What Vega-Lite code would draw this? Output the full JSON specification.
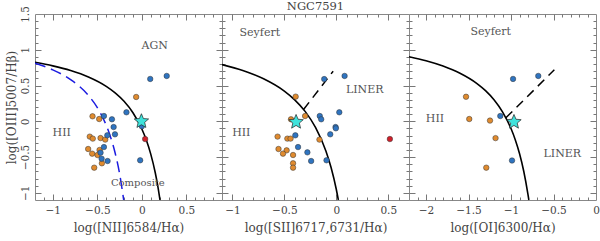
{
"$schema": "https://vega.github.io/schema/vega-lite/v6.json",
"padding": {"left": 4, "top": 0, "right": 3, "bottom": 2},
"background": "white",
"spacing": 0,
"bounds": "flush",
"config": {
  "view": {"stroke": "#888", "strokeWidth": 1},
  "font": "DejaVu Serif",
  "axis": {"grid": false, "domain": false, "labelFlush": false, "labelOverlap": false, "tickColor": "#777", "tickWidth": 1, "labelFont": "DejaVu Serif", "labelFontSize": 10.5, "labelColor": "#444", "titleFont": "DejaVu Serif", "titleFontSize": 12, "titleFontWeight": "normal", "titleColor": "#444"}
},
"datasets": {
  "p1": [
    {"x": -0.064, "y": 0.34, "c": "o"}, {"x": -0.554, "y": 0.07, "c": "o"}, {"x": -0.479, "y": 0.032, "c": "o"}, {"x": -0.585, "y": -0.214, "c": "o"}, {"x": -0.551, "y": -0.242, "c": "o"}, {"x": -0.464, "y": -0.234, "c": "o"}, {"x": -0.411, "y": -0.256, "c": "o"}, {"x": -0.603, "y": -0.387, "c": "o"}, {"x": -0.475, "y": -0.401, "c": "o"}, {"x": -0.558, "y": -0.452, "c": "o"}, {"x": -0.498, "y": -0.471, "c": "o"}, {"x": -0.449, "y": -0.587, "c": "o"}, {"x": -0.535, "y": -0.648, "c": "o"},
    {"x": 0.094, "y": 0.592, "c": "b"}, {"x": 0.279, "y": 0.634, "c": "b"}, {"x": -0.173, "y": 0.126, "c": "b"}, {"x": -0.426, "y": 0.074, "c": "b"}, {"x": -0.336, "y": 0.028, "c": "b"}, {"x": -0.317, "y": -0.08, "c": "b"}, {"x": -0.302, "y": -0.182, "c": "b"}, {"x": -0.388, "y": -0.196, "c": "b"}, {"x": -0.426, "y": -0.36, "c": "b"}, {"x": -0.464, "y": -0.438, "c": "b"}, {"x": -0.452, "y": -0.522, "c": "b"}, {"x": -0.385, "y": -0.555, "c": "b"}, {"x": -0.019, "y": -0.545, "c": "b"}, {"x": 0.0, "y": -0.07, "c": "b"},
    {"x": 0.037, "y": -0.248, "c": "r"}
  ],
  "p2": [
    {"x": -0.391, "y": 0.345, "c": "o"}, {"x": -0.30, "y": 0.074, "c": "o"}, {"x": -0.436, "y": 0.028, "c": "o"}, {"x": -0.565, "y": -0.214, "c": "o"}, {"x": -0.471, "y": -0.242, "c": "o"}, {"x": -0.44, "y": -0.242, "c": "o"}, {"x": -0.162, "y": -0.256, "c": "o"}, {"x": -0.556, "y": -0.387, "c": "o"}, {"x": -0.478, "y": -0.406, "c": "o"}, {"x": -0.513, "y": -0.452, "c": "o"}, {"x": -0.416, "y": -0.471, "c": "o"}, {"x": -0.416, "y": -0.587, "c": "o"}, {"x": -0.416, "y": -0.648, "c": "o"},
    {"x": -0.116, "y": 0.59, "c": "b"}, {"x": 0.08, "y": 0.634, "c": "b"}, {"x": -0.159, "y": 0.074, "c": "b"}, {"x": -0.145, "y": 0.028, "c": "b"}, {"x": 0.029, "y": 0.126, "c": "b"}, {"x": -0.007, "y": -0.08, "c": "b"}, {"x": -0.004, "y": -0.098, "c": "b"}, {"x": -0.058, "y": -0.182, "c": "b"}, {"x": -0.394, "y": -0.196, "c": "b"}, {"x": -0.368, "y": -0.36, "c": "b"}, {"x": -0.278, "y": -0.434, "c": "b"}, {"x": -0.242, "y": -0.555, "c": "b"}, {"x": -0.094, "y": -0.545, "c": "b"},
    {"x": 0.516, "y": -0.248, "c": "r"}
  ],
  "p3": [
    {"x": -1.529, "y": 0.343, "c": "o"}, {"x": -1.491, "y": 0.032, "c": "o"}, {"x": -1.247, "y": 0.01, "c": "o"}, {"x": -1.182, "y": -0.235, "c": "o"}, {"x": -1.291, "y": -0.648, "c": "o"},
    {"x": -0.976, "y": 0.592, "c": "b"}, {"x": -0.679, "y": 0.634, "c": "b"}, {"x": -1.126, "y": 0.074, "c": "b"}, {"x": -0.988, "y": -0.548, "c": "b"}
  ],
  "s1": [{"x": -0.005, "y": 0.0}],
  "s2": [{"x": -0.387, "y": -0.01}],
  "s3": [{"x": -0.965, "y": -0.01}],
  "kew1": [{"x": -1.2, "y": 0.825}, {"x": -1.0, "y": 0.775}, {"x": -0.8, "y": 0.71}, {"x": -0.6, "y": 0.62}, {"x": -0.4, "y": 0.489}, {"x": -0.3, "y": 0.398}, {"x": -0.2, "y": 0.28}, {"x": -0.1, "y": 0.12}, {"x": 0.0, "y": -0.108}, {"x": 0.05, "y": -0.262}, {"x": 0.1, "y": -0.459}, {"x": 0.15, "y": -0.716}, {"x": 0.18, "y": -0.913}, {"x": 0.2035, "y": -1.099}],
  "kau1": [{"x": -1.2, "y": 0.812}, {"x": -1.0, "y": 0.719}, {"x": -0.8, "y": 0.582}, {"x": -0.6, "y": 0.362}, {"x": -0.5, "y": 0.191}, {"x": -0.4, "y": -0.056}, {"x": -0.35, "y": -0.225}, {"x": -0.3, "y": -0.443}, {"x": -0.25, "y": -0.733}, {"x": -0.204, "y": -1.1}],
  "kew2": [{"x": -1.1, "y": 0.793}, {"x": -0.9, "y": 0.71}, {"x": -0.7, "y": 0.594}, {"x": -0.5, "y": 0.422}, {"x": -0.4, "y": 0.3}, {"x": -0.3, "y": 0.139}, {"x": -0.2, "y": -0.085}, {"x": -0.1, "y": -0.414}, {"x": -0.05, "y": -0.646}, {"x": 0.0, "y": -0.95}, {"x": 0.02, "y": -1.1}],
  "sl2": [{"x": -0.315, "y": 0.165}, {"x": -0.03, "y": 0.7}],
  "kew3": [{"x": -2.2, "y": 0.903}, {"x": -2.0, "y": 0.847}, {"x": -1.8, "y": 0.773}, {"x": -1.6, "y": 0.672}, {"x": -1.4, "y": 0.528}, {"x": -1.3, "y": 0.429}, {"x": -1.2, "y": 0.302}, {"x": -1.1, "y": 0.133}, {"x": -1.0, "y": -0.101}, {"x": -0.95, "y": -0.257}, {"x": -0.9, "y": -0.45}, {"x": -0.85, "y": -0.698}, {"x": -0.8, "y": -1.025}, {"x": -0.79, "y": -1.1}],
  "sl3": [{"x": -1.06, "y": 0.049}, {"x": -0.49, "y": 0.72}],
  "t1": [{"x": 0.144, "y": 1.05, "t": "AGN"}, {"x": -0.9, "y": -0.16, "t": "HII"}, {"x": -0.045, "y": -0.86, "t": "Composite"}],
  "t2": [{"x": -0.736, "y": 1.235, "t": "Seyfert"}, {"x": 0.274, "y": 0.443, "t": "LINER"}, {"x": -0.914, "y": -0.164, "t": "HII"}],
  "t3": [{"x": -1.239, "y": 1.245, "t": "Seyfert"}, {"x": -1.894, "y": 0.038, "t": "HII"}, {"x": -0.396, "y": -0.457, "t": "LINER"}]
},
"hconcat": [
 {
  "width": 187, "height": 186,
  "resolve": {"axis": {"x": "independent", "y": "independent"}},
  "layer": [
   {"data": {"name": "kew1"}, "mark": {"type": "line", "color": "black", "strokeWidth": 1.6, "interpolate": "monotone", "clip": true},
    "encoding": {
     "x": {"field": "x", "type": "quantitative", "scale": {"domain": [-1.2, 0.9], "nice": false, "zero": false}, "axis": {"orient": "bottom", "values": [-1, -0.5, 0, 0.5], "ticks": false, "format": "~g", "labelPadding": 5, "title": "log([NII]6584/Hα)", "titlePadding": 7}},
     "y": {"field": "y", "type": "quantitative", "scale": {"domain": [-1.1, 1.5], "nice": false, "zero": false}, "axis": {"orient": "left", "values": [-1, -0.5, 0, 0.5, 1, 1.5], "ticks": false, "format": "~g", "labelAngle": -90, "labelAlign": "center", "labelBaseline": "bottom", "labelPadding": 5, "title": "log([OIII]5007/Hβ)", "titlePadding": 2}}
    }},
   {"data": {"name": "kau1"}, "mark": {"type": "line", "color": "#1c1ce0", "strokeWidth": 1.5, "strokeDash": [11, 6], "interpolate": "monotone", "clip": true},
    "encoding": {
     "x": {"field": "x", "type": "quantitative", "scale": {"domain": [-1.2, 0.9], "nice": false, "zero": false}, "axis": {"orient": "bottom", "values": [-1, -0.5, 0, 0.5], "tickSize": -6, "labelExpr": "''", "labelPadding": -20, "title": null}},
     "y": {"field": "y", "type": "quantitative", "scale": {"domain": [-1.1, 1.5], "nice": false, "zero": false}, "axis": {"orient": "left", "values": [-1, -0.5, 0, 0.5, 1], "tickSize": -6, "labelExpr": "''", "labelPadding": -20, "title": null}}
    }},
   {"data": {"name": "p1"}, "mark": {"type": "circle", "size": 30, "opacity": 1, "stroke": "#333", "strokeWidth": 0.5},
    "encoding": {
     "x": {"field": "x", "type": "quantitative", "scale": {"domain": [-1.2, 0.9], "nice": false, "zero": false}, "axis": {"orient": "bottom", "values": [-1.1, -0.9, -0.8, -0.7, -0.6, -0.4, -0.3, -0.2, -0.1, 0.1, 0.2, 0.3, 0.4, 0.6, 0.7, 0.8], "tickSize": -3, "labelExpr": "''", "labelPadding": -20, "title": null}},
     "y": {"field": "y", "type": "quantitative", "scale": {"domain": [-1.1, 1.5], "nice": false, "zero": false}, "axis": {"orient": "left", "values": [-0.9, -0.8, -0.7, -0.6, -0.4, -0.3, -0.2, -0.1, 0.1, 0.2, 0.3, 0.4, 0.6, 0.7, 0.8, 0.9, 1.1, 1.2, 1.3, 1.4], "tickSize": -3, "labelExpr": "''", "labelPadding": -20, "title": null}},
     "color": {"field": "c", "type": "nominal", "scale": {"domain": ["o", "b", "r"], "range": ["#e08b2f", "#2f74c0", "#d0202a"]}, "legend": null}
    }},
   {"data": {"name": "s1"}, "mark": {"type": "point", "shape": "M0,-1L0.265,-0.364L0.951,-0.309L0.428,0.139L0.588,0.809L0,0.45L-0.588,0.809L-0.428,0.139L-0.951,-0.309L-0.265,-0.364Z", "size": 230, "filled": true, "fill": "#3fe3dc", "stroke": "#222", "strokeWidth": 0.7, "opacity": 1},
    "encoding": {
     "x": {"field": "x", "type": "quantitative", "scale": {"domain": [-1.2, 0.9], "nice": false, "zero": false}, "axis": {"orient": "top", "values": [-1, -0.5, 0, 0.5], "tickSize": -6, "labelExpr": "''", "labelPadding": -20, "title": null}},
     "y": {"field": "y", "type": "quantitative", "scale": {"domain": [-1.1, 1.5], "nice": false, "zero": false}, "axis": {"orient": "right", "values": [-1, -0.5, 0, 0.5, 1], "tickSize": -6, "labelExpr": "''", "labelPadding": -20, "title": null}}
    }},
   {"data": {"name": "t1"}, "mark": {"type": "text", "font": "DejaVu Serif", "color": "#555", "align": "center", "baseline": "middle"},
    "encoding": {
     "x": {"field": "x", "type": "quantitative", "scale": {"domain": [-1.2, 0.9], "nice": false, "zero": false}, "axis": {"orient": "top", "values": [-1.1, -0.9, -0.8, -0.7, -0.6, -0.4, -0.3, -0.2, -0.1, 0.1, 0.2, 0.3, 0.4, 0.6, 0.7, 0.8], "tickSize": -3, "labelExpr": "''", "labelPadding": -20, "title": null}},
     "y": {"field": "y", "type": "quantitative", "scale": {"domain": [-1.1, 1.5], "nice": false, "zero": false}, "axis": {"orient": "right", "values": [-0.9, -0.8, -0.7, -0.6, -0.4, -0.3, -0.2, -0.1, 0.1, 0.2, 0.3, 0.4, 0.6, 0.7, 0.8, 0.9, 1.1, 1.2, 1.3, 1.4], "tickSize": -3, "labelExpr": "''", "labelPadding": -20, "title": null}},
     "text": {"field": "t"},
     "size": {"condition": {"test": "datum.t === 'Composite'", "value": 10}, "value": 11}
    }}
  ]
 },
 {
  "width": 187, "height": 186,
  "title": {"text": "NGC7591", "font": "DejaVu Serif", "fontSize": 11.5, "fontWeight": "normal", "color": "#444", "offset": 1, "anchor": "middle"},
  "resolve": {"axis": {"x": "independent", "y": "independent"}},
  "layer": [
   {"data": {"name": "kew2"}, "mark": {"type": "line", "color": "black", "strokeWidth": 1.6, "interpolate": "monotone", "clip": true},
    "encoding": {
     "x": {"field": "x", "type": "quantitative", "scale": {"domain": [-1.1, 0.7], "nice": false, "zero": false}, "axis": {"orient": "bottom", "values": [-1, -0.5, 0, 0.5], "ticks": false, "format": "~g", "labelPadding": 5, "title": "log([SII]6717,6731/Hα)", "titlePadding": 7}},
     "y": {"field": "y", "type": "quantitative", "scale": {"domain": [-1.1, 1.5], "nice": false, "zero": false}, "axis": null}
    }},
   {"data": {"name": "sl2"}, "mark": {"type": "line", "color": "black", "strokeWidth": 1.5, "strokeDash": [9, 6], "clip": true},
    "encoding": {
     "x": {"field": "x", "type": "quantitative", "scale": {"domain": [-1.1, 0.7], "nice": false, "zero": false}, "axis": {"orient": "bottom", "values": [-1, -0.5, 0, 0.5], "tickSize": -6, "labelExpr": "''", "labelPadding": -20, "title": null}},
     "y": {"field": "y", "type": "quantitative", "scale": {"domain": [-1.1, 1.5], "nice": false, "zero": false}, "axis": {"orient": "left", "values": [-1, -0.5, 0, 0.5, 1], "tickSize": -6, "labelExpr": "''", "labelPadding": -20, "title": null}}
    }},
   {"data": {"name": "p2"}, "mark": {"type": "circle", "size": 30, "opacity": 1, "stroke": "#333", "strokeWidth": 0.5},
    "encoding": {
     "x": {"field": "x", "type": "quantitative", "scale": {"domain": [-1.1, 0.7], "nice": false, "zero": false}, "axis": {"orient": "bottom", "values": [-0.9, -0.8, -0.7, -0.6, -0.4, -0.3, -0.2, -0.1, 0.1, 0.2, 0.3, 0.4, 0.6], "tickSize": -3, "labelExpr": "''", "labelPadding": -20, "title": null}},
     "y": {"field": "y", "type": "quantitative", "scale": {"domain": [-1.1, 1.5], "nice": false, "zero": false}, "axis": {"orient": "left", "values": [-0.9, -0.8, -0.7, -0.6, -0.4, -0.3, -0.2, -0.1, 0.1, 0.2, 0.3, 0.4, 0.6, 0.7, 0.8, 0.9, 1.1, 1.2, 1.3, 1.4], "tickSize": -3, "labelExpr": "''", "labelPadding": -20, "title": null}},
     "color": {"field": "c", "type": "nominal", "scale": {"domain": ["o", "b", "r"], "range": ["#e08b2f", "#2f74c0", "#d0202a"]}, "legend": null}
    }},
   {"data": {"name": "s2"}, "mark": {"type": "point", "shape": "M0,-1L0.265,-0.364L0.951,-0.309L0.428,0.139L0.588,0.809L0,0.45L-0.588,0.809L-0.428,0.139L-0.951,-0.309L-0.265,-0.364Z", "size": 230, "filled": true, "fill": "#3fe3dc", "stroke": "#222", "strokeWidth": 0.7, "opacity": 1},
    "encoding": {
     "x": {"field": "x", "type": "quantitative", "scale": {"domain": [-1.1, 0.7], "nice": false, "zero": false}, "axis": {"orient": "top", "values": [-1, -0.5, 0, 0.5], "tickSize": -6, "labelExpr": "''", "labelPadding": -20, "title": null}},
     "y": {"field": "y", "type": "quantitative", "scale": {"domain": [-1.1, 1.5], "nice": false, "zero": false}, "axis": {"orient": "right", "values": [-1, -0.5, 0, 0.5, 1], "tickSize": -6, "labelExpr": "''", "labelPadding": -20, "title": null}}
    }},
   {"data": {"name": "t2"}, "mark": {"type": "text", "font": "DejaVu Serif", "fontSize": 11, "color": "#555", "align": "center", "baseline": "middle"},
    "encoding": {
     "x": {"field": "x", "type": "quantitative", "scale": {"domain": [-1.1, 0.7], "nice": false, "zero": false}, "axis": {"orient": "top", "values": [-0.9, -0.8, -0.7, -0.6, -0.4, -0.3, -0.2, -0.1, 0.1, 0.2, 0.3, 0.4, 0.6], "tickSize": -3, "labelExpr": "''", "labelPadding": -20, "title": null}},
     "y": {"field": "y", "type": "quantitative", "scale": {"domain": [-1.1, 1.5], "nice": false, "zero": false}, "axis": {"orient": "right", "values": [-0.9, -0.8, -0.7, -0.6, -0.4, -0.3, -0.2, -0.1, 0.1, 0.2, 0.3, 0.4, 0.6, 0.7, 0.8, 0.9, 1.1, 1.2, 1.3, 1.4], "tickSize": -3, "labelExpr": "''", "labelPadding": -20, "title": null}},
     "text": {"field": "t"}
    }}
  ]
 },
 {
  "width": 187, "height": 186,
  "resolve": {"axis": {"x": "independent", "y": "independent"}},
  "layer": [
   {"data": {"name": "kew3"}, "mark": {"type": "line", "color": "black", "strokeWidth": 1.6, "interpolate": "monotone", "clip": true},
    "encoding": {
     "x": {"field": "x", "type": "quantitative", "scale": {"domain": [-2.2, 0], "nice": false, "zero": false}, "axis": {"orient": "bottom", "values": [-2, -1.5, -1, -0.5, 0], "ticks": false, "format": "~g", "labelPadding": 5, "title": "log([OI]6300/Hα)", "titlePadding": 7}},
     "y": {"field": "y", "type": "quantitative", "scale": {"domain": [-1.1, 1.5], "nice": false, "zero": false}, "axis": null}
    }},
   {"data": {"name": "sl3"}, "mark": {"type": "line", "color": "black", "strokeWidth": 1.5, "strokeDash": [9, 6], "clip": true},
    "encoding": {
     "x": {"field": "x", "type": "quantitative", "scale": {"domain": [-2.2, 0], "nice": false, "zero": false}, "axis": {"orient": "bottom", "values": [-2, -1.5, -1, -0.5], "tickSize": -6, "labelExpr": "''", "labelPadding": -20, "title": null}},
     "y": {"field": "y", "type": "quantitative", "scale": {"domain": [-1.1, 1.5], "nice": false, "zero": false}, "axis": {"orient": "left", "values": [-1, -0.5, 0, 0.5, 1], "tickSize": -6, "labelExpr": "''", "labelPadding": -20, "title": null}}
    }},
   {"data": {"name": "p3"}, "mark": {"type": "circle", "size": 30, "opacity": 1, "stroke": "#333", "strokeWidth": 0.5},
    "encoding": {
     "x": {"field": "x", "type": "quantitative", "scale": {"domain": [-2.2, 0], "nice": false, "zero": false}, "axis": {"orient": "bottom", "values": [-2.1, -1.9, -1.8, -1.7, -1.6, -1.4, -1.3, -1.2, -1.1, -0.9, -0.8, -0.7, -0.6, -0.4, -0.3, -0.2, -0.1], "tickSize": -3, "labelExpr": "''", "labelPadding": -20, "title": null}},
     "y": {"field": "y", "type": "quantitative", "scale": {"domain": [-1.1, 1.5], "nice": false, "zero": false}, "axis": {"orient": "left", "values": [-0.9, -0.8, -0.7, -0.6, -0.4, -0.3, -0.2, -0.1, 0.1, 0.2, 0.3, 0.4, 0.6, 0.7, 0.8, 0.9, 1.1, 1.2, 1.3, 1.4], "tickSize": -3, "labelExpr": "''", "labelPadding": -20, "title": null}},
     "color": {"field": "c", "type": "nominal", "scale": {"domain": ["o", "b", "r"], "range": ["#e08b2f", "#2f74c0", "#d0202a"]}, "legend": null}
    }},
   {"data": {"name": "s3"}, "mark": {"type": "point", "shape": "M0,-1L0.265,-0.364L0.951,-0.309L0.428,0.139L0.588,0.809L0,0.45L-0.588,0.809L-0.428,0.139L-0.951,-0.309L-0.265,-0.364Z", "size": 230, "filled": true, "fill": "#3fe3dc", "stroke": "#222", "strokeWidth": 0.7, "opacity": 1},
    "encoding": {
     "x": {"field": "x", "type": "quantitative", "scale": {"domain": [-2.2, 0], "nice": false, "zero": false}, "axis": {"orient": "top", "values": [-2, -1.5, -1, -0.5], "tickSize": -6, "labelExpr": "''", "labelPadding": -20, "title": null}},
     "y": {"field": "y", "type": "quantitative", "scale": {"domain": [-1.1, 1.5], "nice": false, "zero": false}, "axis": {"orient": "right", "values": [-1, -0.5, 0, 0.5, 1], "tickSize": -6, "labelExpr": "''", "labelPadding": -20, "title": null}}
    }},
   {"data": {"name": "t3"}, "mark": {"type": "text", "font": "DejaVu Serif", "fontSize": 11, "color": "#555", "align": "center", "baseline": "middle"},
    "encoding": {
     "x": {"field": "x", "type": "quantitative", "scale": {"domain": [-2.2, 0], "nice": false, "zero": false}, "axis": {"orient": "top", "values": [-2.1, -1.9, -1.8, -1.7, -1.6, -1.4, -1.3, -1.2, -1.1, -0.9, -0.8, -0.7, -0.6, -0.4, -0.3, -0.2, -0.1], "tickSize": -3, "labelExpr": "''", "labelPadding": -20, "title": null}},
     "y": {"field": "y", "type": "quantitative", "scale": {"domain": [-1.1, 1.5], "nice": false, "zero": false}, "axis": {"orient": "right", "values": [-0.9, -0.8, -0.7, -0.6, -0.4, -0.3, -0.2, -0.1, 0.1, 0.2, 0.3, 0.4, 0.6, 0.7, 0.8, 0.9, 1.1, 1.2, 1.3, 1.4], "tickSize": -3, "labelExpr": "''", "labelPadding": -20, "title": null}},
     "text": {"field": "t"}
    }}
  ]
 }
]
}
